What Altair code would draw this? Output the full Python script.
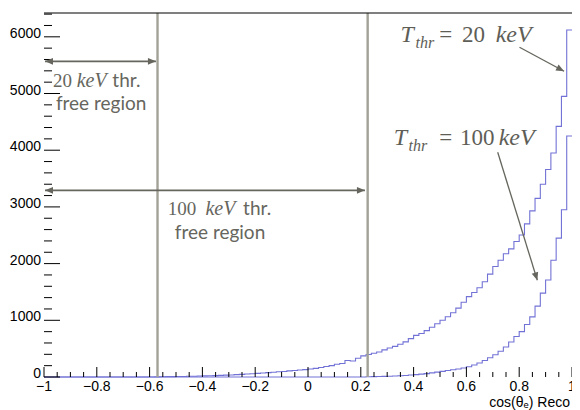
import altair as alt
import pandas as pd
import numpy as np

# ---------------- data ----------------
x_ticks = [-1, -0.8, -0.6, -0.4, -0.2, 0, 0.2, 0.4, 0.6, 0.8, 1]
x_tick_labels = ["−1", "−0.8", "−0.6", "−0.4", "−0.2", "0", "0.2", "0.4", "0.6", "0.8", "1"]
y_ticks = [0, 1000, 2000, 3000, 4000, 5000, 6000]
y_tick_labels = ["0", "1000", "2000", "3000", "4000", "5000", "6000"]

bin_width = 0.02
start_20 = -0.58
counts_20 = [3, 4, 6, 7, 9, 10, 12, 14, 17, 19,
             22, 25, 28, 33, 36, 42, 47, 52, 58, 64,
             70, 78, 84, 92, 98, 108, 114, 124, 130, 140,
             152, 168, 184, 200, 226, 238, 290, 282, 330, 372,
             398, 418, 440, 478, 512, 540, 578, 620, 676, 735,
             768, 818, 878, 940, 1000, 1062, 1132, 1215, 1318, 1418,
             1490, 1575, 1680, 1815, 1950, 2060, 2175, 2260, 2390, 2505,
             2700, 2930, 3150, 3400, 3660, 3950, 4420, 4950, 6120]
start_100 = 0.22
counts_100 = [4, 6, 8, 11, 14, 17, 21, 27, 34, 42,
              50, 60, 72, 86, 100, 115, 128, 142, 160, 180,
              212, 248, 290, 340, 392, 455, 530, 618, 715, 800,
              925, 1060, 1250, 1480, 1710, 2060, 2450, 2950, 4250]
thresholds = [-0.57, 0.226]

# ---------------- geometry ----------------
W, H = 528, 364
YMAX = 6420
# reference picture geometry used to place annotations in data units
RX0, RX1, RY0, RY1 = 45, 578, 376.7, 12.7


def px2x(px):
    return -1 + 2 * (px - RX0) / (RX1 - RX0)


def px2y(py):
    return YMAX * (RY0 - py) / (RY0 - RY1)


def step_df(start, counts, name):
    edges = [round(start + i * bin_width, 4) for i in range(len(counts))]
    xs = [-1.0] + edges + [1.0]
    ys = [0] + list(counts) + [counts[-1]]
    return pd.DataFrame({"x": xs, "y": ys, "s": name})


hist_df = pd.concat([step_df(start_20, counts_20, "20"),
                     step_df(start_100, counts_100, "100")])

xs = alt.Scale(domain=[-1, 1], nice=False, zero=False)
ys = alt.Scale(domain=[0, YMAX], nice=False, zero=False)

xaxis = alt.Axis(values=x_ticks, ticks=False, grid=False, labels=False,
                 domainColor="black", domainWidth=1.2, zindex=1, title=None)
yaxis = alt.Axis(values=y_ticks, ticks=False, grid=False, labels=False,
                 domainColor="black", domainWidth=1.2, zindex=1, title=None)

ANN = "#66665e"
ANN2 = "#5e5e57"

hist = alt.Chart(hist_df).mark_line(interpolate="step-after", color="#7272d6",
                                    strokeWidth=1.1).encode(
    x=alt.X("x:Q", scale=xs, axis=xaxis),
    y=alt.Y("y:Q", scale=ys, axis=yaxis),
    detail="s:N",
)

vlines = alt.Chart(pd.DataFrame({"x": thresholds})).mark_rule(
    color="#a3a298", strokeWidth=2.4).encode(
    x=alt.X("x:Q", scale=xs, axis=None), y=alt.value(0), y2=alt.value(H))

# inward ticks (ROOT style)
minor_x = [v for v in np.round(np.arange(-1, 1.0001, 0.05), 3)
           if not np.isclose(v * 5, round(v * 5))]
minor_y = [v for v in range(0, 6401, 200) if v % 1000 != 0]
xt_major = alt.Chart(pd.DataFrame({"x": x_ticks})).mark_rule(color="black").encode(
    x=alt.X("x:Q", scale=xs, axis=None), y=alt.value(H), y2=alt.value(H - 10))
xt_minor = alt.Chart(pd.DataFrame({"x": minor_x})).mark_rule(color="black").encode(
    x=alt.X("x:Q", scale=xs, axis=None), y=alt.value(H), y2=alt.value(H - 5))
yt_major = alt.Chart(pd.DataFrame({"y": y_ticks})).mark_rule(color="black").encode(
    y=alt.Y("y:Q", scale=ys, axis=None), x=alt.value(0), x2=alt.value(16))
yt_minor = alt.Chart(pd.DataFrame({"y": minor_y})).mark_rule(color="black").encode(
    y=alt.Y("y:Q", scale=ys, axis=None), x=alt.value(0), x2=alt.value(8))
top_border = alt.Chart(pd.DataFrame({"a": [0]})).mark_rule(
    color="black", strokeWidth=1.2).encode(
    x=alt.value(0), x2=alt.value(W + 10), y=alt.value(0))

# tick labels
xl = alt.Chart(pd.DataFrame({"x": x_ticks, "t": x_tick_labels})).mark_text(
    align="center", baseline="top", font="Liberation Sans", fontSize=14,
    color="black").encode(
    x=alt.X("x:Q", scale=xs, axis=None), y=alt.value(H + 3), text="t:N")
yl = alt.Chart(pd.DataFrame({"y": y_ticks, "t": y_tick_labels})).mark_text(
    align="right", baseline="middle", font="Liberation Sans", fontSize=14,
    color="black", dy=-3).encode(
    y=alt.Y("y:Q", scale=ys, axis=None), x=alt.value(-3), text="t:N")

# arrows (reference pixel positions converted to data units)
arrow_segs = [((46, 61), (158, 61), 1.8),
              ((46, 190), (369, 190), 1.8),
              ((525, 47), (570, 71), 1.3),
              ((503, 152), (543, 280), 1.3)]
arr_df = pd.DataFrame({
    "x": [px2x(a[0][0]) for a in arrow_segs],
    "y": [px2y(a[0][1]) for a in arrow_segs],
    "x2": [px2x(a[1][0]) for a in arrow_segs],
    "y2": [px2y(a[1][1]) for a in arrow_segs],
    "w": [a[2] for a in arrow_segs],
})
arrows = alt.Chart(arr_df).mark_rule(color=ANN).encode(
    x=alt.X("x:Q", scale=xs, axis=None), y=alt.Y("y:Q", scale=ys, axis=None),
    x2="x2:Q", y2="y2:Q", strokeWidth=alt.StrokeWidth("w:Q", scale=None))

heads = [(46, 61, 180), (158, 61, 0), (46, 190, 180), (369, 190, 0),
         (570, 71, float(np.degrees(np.arctan2(24, 45)))),
         (543, 280, float(np.degrees(np.arctan2(128, 40))))]
head_df = pd.DataFrame({"x": [px2x(h[0]) for h in heads],
                        "y": [px2y(h[1]) for h in heads],
                        "a": [h[2] for h in heads]})
arrowheads = alt.Chart(head_df).mark_point(
    shape="M0,0L-1,-0.42L-1,0.42Z", filled=True, size=256, opacity=1,
    color=ANN, strokeWidth=0).encode(
    x=alt.X("x:Q", scale=xs, axis=None), y=alt.Y("y:Q", scale=ys, axis=None),
    angle=alt.Angle("a:Q", scale=None))


def texts(items, **kw):
    df = pd.DataFrame({"x": [px2x(i[1]) for i in items],
                       "y": [px2y(i[2]) for i in items],
                       "t": [i[0] for i in items]})
    return alt.Chart(df).mark_text(align="left", baseline="alphabetic", **kw).encode(
        x=alt.X("x:Q", scale=xs, axis=None), y=alt.Y("y:Q", scale=ys, axis=None),
        text="t:N")


t_serif = texts([("20", 54, 87), ("100", 170, 215)],
                font="Liberation Serif", fontSize=19, color=ANN)
t_serif_it = texts([("keV", 78, 87), ("keV", 208, 215)],
                   font="Liberation Serif", fontSize=20, fontStyle="italic", color=ANN)
t_sans = texts([("thr.", 114, 87), ("free region", 57, 110),
                ("thr.", 246, 215), ("free region", 177, 239)],
               font="Lato", fontSize=19, color=ANN)
t_big_it = texts([("T", 405, 42), ("keV", 501, 42), ("T", 398, 145), ("keV", 504, 145)],
                 font="Liberation Serif", fontSize=24, fontStyle="italic", color=ANN2)
t_big = texts([("=", 444, 42), ("20", 467, 42), ("=", 444, 145), ("100", 465, 145)],
              font="Liberation Serif", fontSize=23, color=ANN2)
t_sub = texts([("thr", 420, 48), ("thr", 413, 151)],
              font="Liberation Serif", fontSize=16, fontStyle="italic", color=ANN2)
x_title = alt.Chart(pd.DataFrame({"t": ["cos(θₑ) Reco"]})).mark_text(
    align="right", baseline="alphabetic", font="Liberation Sans", fontSize=14,
    color="black").encode(x=alt.value(W - 2), y=alt.value(H + 30), text="t:N")

chart = alt.layer(
    hist, vlines, xt_major, xt_minor, yt_major, yt_minor, top_border,
    xl, yl, arrows, arrowheads, t_serif, t_serif_it, t_sans, t_big_it, t_big, t_sub,
    x_title,
).properties(
    width=W, height=H,
    autosize=alt.AutoSizeParams(type="none"),
    padding={"left": 36, "top": 5, "right": 0, "bottom": 33},
    background="white",
).configure_view(strokeWidth=0)

chart.save("out.html", embed_options={"renderer": "svg", "actions": False})
